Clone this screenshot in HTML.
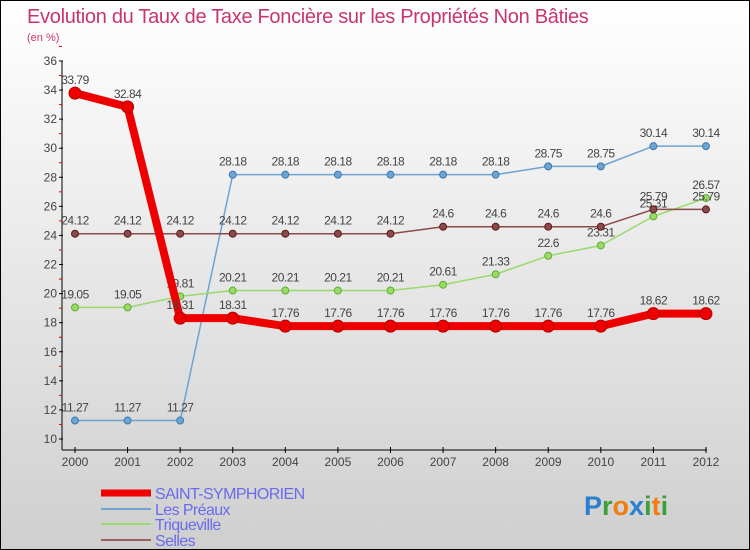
<!DOCTYPE html>
<html><head><meta charset="utf-8"><style>
body{margin:0}
#c{width:748px;height:548px;border:1px solid #000;background:linear-gradient(#ffffff,#cfcfcf);position:relative;font-family:"Liberation Sans",sans-serif}
</style></head><body>
<div id="c">
<svg id="s" width="748" height="548" style="position:absolute;left:0;top:0;font-family:'Liberation Sans',sans-serif"></svg>
</div>
<script>
const years=[2000,2001,2002,2003,2004,2005,2006,2007,2008,2009,2010,2011,2012];
const saint=[33.79,32.84,18.31,18.31,17.76,17.76,17.76,17.76,17.76,17.76,17.76,18.62,18.62];
const preaux=[11.27,11.27,11.27,28.18,28.18,28.18,28.18,28.18,28.18,28.75,28.75,30.14,30.14];
const triq=[19.05,19.05,19.81,20.21,20.21,20.21,20.21,20.61,21.33,22.6,23.31,25.31,26.57];
const selles=[24.12,24.12,24.12,24.12,24.12,24.12,24.12,24.6,24.6,24.6,24.6,25.79,25.79];
const yTicks=[10,12,14,16,18,20,22,24,26,28,30,32,34,36];
const NS="http://www.w3.org/2000/svg",s=document.getElementById('s');
const X=i=>74+i*52.58, Y=v=>438-(v-10)*14.54;
function el(t,a,p){const e=document.createElementNS(NS,t);for(const k in a)e.setAttribute(k,a[k]);(p||s).appendChild(e);return e;}
function fmt(v){return String(v);}
let t=el('text',{x:26,y:22,'font-size':20,fill:'#c8356e','letter-spacing':'-0.3'});t.textContent='Evolution du Taux de Taxe Foncière sur les Propriétés Non Bâties';

t=el('text',{x:26,y:40,'font-size':11,fill:'#c8356e'});t.textContent='(en %)';

let a=el('line',{x1:61,y1:60,x2:61,y2:449,stroke:'#000'});
a=el('line',{x1:61,y1:449,x2:706,y2:449,stroke:'#000'});
yTicks.forEach(v=>{el('line',{x1:58,x2:62,y1:Y(v),y2:Y(v),stroke:'#000'});el('line',{x1:58,x2:61,y1:Y(v+1),y2:Y(v+1),stroke:'#e00'});
 const tx=el('text',{x:56,y:Y(v)+4,'font-size':12,fill:'#444','text-anchor':'end'});tx.textContent=v;
 });
years.forEach((y,i)=>{el('line',{x1:X(i),x2:X(i),y1:446,y2:452,stroke:'#000'});
 const tx=el('text',{x:X(i),y:465,'font-size':12,fill:'#444','text-anchor':'middle'});tx.textContent=y;
 });
function series(d,col,w,r,name,dark){
 const p=el('polyline',{points:d.map((v,i)=>X(i)+','+Y(v)).join(' '),fill:'none',stroke:col,'stroke-width':w,'stroke-linejoin':'round'});
 
 d.forEach((v,i)=>{const c=el('circle',{cx:X(i),cy:Y(v),r:r,fill:col,stroke:dark,'stroke-width':1});
  
  const tx=el('text',{x:X(i),y:Y(v)-9,'font-size':12,fill:'#444','text-anchor':'middle','letter-spacing':'-0.5'});tx.textContent=fmt(v);
  });
}
series(preaux,'#6fa3d0',1.5,3.5,'les-preaux','#3b78b0');
series(triq,'#9bd96b',1.5,3.5,'triqueville','#5fae2f');
series(selles,'#8b4a4a',1.5,3.5,'selles','#5a1a1a');
series(saint,'#ee0000',8,6,'saint-symphorien','#b00000');
const leg=[['SAINT-SYMPHORIEN','#ee0000',7,492],['Les Préaux','#6fa3d0',2,508],['Triqueville','#9bd96b',2,523],['Selles','#9a6060',2,539]];
leg.forEach(l=>{const g=el('g',{});
 el('line',{x1:100,x2:150,y1:l[3],y2:l[3],stroke:l[1],'stroke-width':l[2]},g);
 const tx=el('text',{x:154,y:l[3]+6,'font-size':16,fill:'#6a6aee','letter-spacing':'-0.6'},g);tx.textContent=l[0];});
const lg=el('text',{x:583,y:514,'font-size':27,'font-weight':'bold'});
[['P','#2a7fd0'],['r','#3aa03a'],['o','#f07d10'],['x','#2a7fd0'],['i','#3aa03a'],['t','#f07d10'],['i','#3aa03a']].forEach(c=>{const ts=el('tspan',{fill:c[1]},lg);ts.textContent=c[0];});
</script>
</body></html>
